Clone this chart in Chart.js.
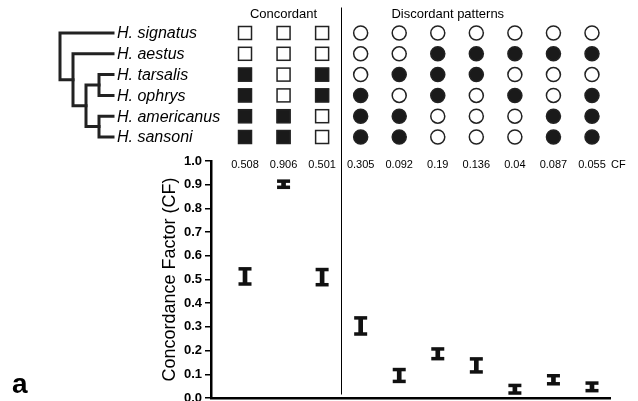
<!DOCTYPE html>
<html>
<head>
<meta charset="utf-8">
<script src="https://cdn.jsdelivr.net/npm/chart.js@4.4.0/dist/chart.umd.min.js"></script>
<style>
  html, body { margin: 0; padding: 0; background: #fff; }
  #wrap { width: 638px; height: 401px; position: relative; }
</style>
</head>
<body>
<div id="wrap"><canvas id="cfChart"></canvas></div>
<script>
// pattern columns (0-2 concordant, 3-9 discordant)
const patternIds = [0, 1, 2, 3, 4, 5, 6, 7, 8, 9];
const cfValues = [0.508, 0.906, 0.501, 0.305, 0.092, 0.19, 0.136, 0.04, 0.087, 0.055];
const cfLow  = [0.481, 0.889, 0.478, 0.270, 0.070, 0.166, 0.110, 0.021, 0.060, 0.031];
const cfHigh = [0.545, 0.915, 0.542, 0.338, 0.120, 0.207, 0.165, 0.053, 0.094, 0.063];
const yTicks = [0, 0.1, 0.2, 0.3, 0.4, 0.5, 0.6, 0.7, 0.8, 0.9, 1.0];

const species = ['H. signatus', 'H. aestus', 'H. tarsalis', 'H. ophrys', 'H. americanus', 'H. sansoni'];
const tree = ['H. signatus', ['H. aestus', [['H. tarsalis', 'H. ophrys'], ['H. americanus', 'H. sansoni']]]];
// one string per column, rows top->bottom in species order, 1 = filled
const patterns = ['001111', '000011', '001100', '000111', '001011', '011100', '011000', '010100', '010011', '010111'];
const concordantCount = 3;

const FONT = '"Liberation Sans", Arial, Helvetica, sans-serif';
const INK = '#111';

// row layout of the top panel
const rowY = i => 33 + i * 20.8;

const topPanel = {
  id: 'topPanel',
  afterDraw(chart) {
    const { ctx, scales: { x, y } } = chart;
    ctx.save();

    // tree (cladogram)
    const leafX = 113, x0 = 60, step = 13;
    ctx.strokeStyle = '#222';
    ctx.lineWidth = 3;
    ctx.lineCap = 'square';
    const layout = (node, depth) => {
      if (typeof node === 'string') return { y: rowY(species.indexOf(node)), x: leafX };
      const nx = x0 + depth * step;
      const kids = node.map(n => layout(n, depth + 1));
      const ys = kids.map(k => k.y);
      ctx.beginPath();
      ctx.moveTo(nx, Math.min(...ys));
      ctx.lineTo(nx, Math.max(...ys));
      kids.forEach(k => { ctx.moveTo(nx, k.y); ctx.lineTo(k.x, k.y); });
      ctx.stroke();
      return { y: (Math.min(...ys) + Math.max(...ys)) / 2, x: nx };
    };
    layout(tree, 0);

    ctx.fillStyle = '#000';
    ctx.font = 'italic 16px ' + FONT;
    ctx.textAlign = 'left';
    ctx.textBaseline = 'middle';
    species.forEach((s, i) => ctx.fillText(s, 117, rowY(i) + 1));

    // headings
    ctx.font = '13px ' + FONT;
    ctx.textAlign = 'center';
    ctx.fillText('Concordant', x.getPixelForValue(1), 14);
    ctx.textAlign = 'left';
    ctx.fillText('Discordant patterns', x.getPixelForValue(concordantCount - 0.5) + 50, 14);

    // pattern matrix
    ctx.lineWidth = 1.5;
    patterns.forEach((col, c) => {
      const cx = x.getPixelForValue(patternIds[c]);
      col.split('').forEach((v, r) => {
        const cy = rowY(r);
        const filled = v === '1';
        ctx.fillStyle = filled ? '#1a1a1a' : '#fff';
        ctx.strokeStyle = '#222';
        if (c < concordantCount) {
          ctx.fillRect(cx - 7, cy - 7, 14, 14);
          ctx.strokeRect(cx - 6.5, cy - 6.5, 13, 13);
        } else {
          ctx.beginPath();
          ctx.arc(cx, cy, 7, 0, Math.PI * 2);
          ctx.fill();
          ctx.stroke();
        }
      });
    });

    // divider
    const dx = Math.round(x.getPixelForValue(concordantCount - 0.5)) + 0.5;
    ctx.strokeStyle = '#000';
    ctx.lineWidth = 1;
    ctx.beginPath();
    ctx.moveTo(dx, 8);
    ctx.lineTo(dx, y.bottom - 4);
    ctx.stroke();

    // CF values row
    ctx.fillStyle = '#000';
    ctx.font = '11px ' + FONT;
    ctx.textAlign = 'center';
    ctx.textBaseline = 'middle';
    cfValues.forEach((v, i) => ctx.fillText(String(v), x.getPixelForValue(patternIds[i]), y.top + 4));
    ctx.textAlign = 'left';
    ctx.fillText('CF', 611, y.top + 4);

    // panel letter
    ctx.font = 'bold 28px ' + FONT;
    ctx.textBaseline = 'alphabetic';
    ctx.fillText('a', 12, 393);

    ctx.restore();
  }
};

new Chart(document.getElementById('cfChart'), {
  type: 'bar',
  data: {
    datasets: [
      {
        type: 'bar',
        data: patternIds.map(i => ({ x: i, y: [cfLow[i], cfHigh[i]] })),
        backgroundColor: INK,
        barThickness: 4,
        borderWidth: 0
      },
      {
        type: 'scatter',
        data: patternIds.map(i => ({ x: i, y: cfLow[i] })),
        pointStyle: 'line',
        pointRadius: 6.5,
        borderWidth: 3.5,
        borderColor: INK
      },
      {
        type: 'scatter',
        data: patternIds.map(i => ({ x: i, y: cfHigh[i] })),
        pointStyle: 'line',
        pointRadius: 6.5,
        borderWidth: 3.5,
        borderColor: INK
      }
    ]
  },
  options: {
    responsive: true,
    maintainAspectRatio: false,
    animation: false,
    layout: { autoPadding: false, padding: { left: 155, top: 161, right: 28, bottom: 3 } },
    plugins: { legend: { display: false }, tooltip: { enabled: false } },
    scales: {
      x: {
        type: 'linear',
        offset: false,
        min: -0.882,
        max: 9.467,
        ticks: { display: false },
        grid: { display: false, drawTicks: false, offset: false },
        border: { color: '#000', width: 2.5 },
        afterFit: s => { s.height = 0; s.paddingLeft = 0; s.paddingRight = 0; }
      },
      y: {
        min: 0,
        max: 1,
        afterBuildTicks: s => { s.ticks = yTicks.map(v => ({ value: v })); },
        ticks: {
          color: '#000',
          padding: 3,
          font: { family: FONT, size: 13, weight: 'bold' },
          callback: v => Number(v).toFixed(1)
        },
        grid: { drawOnChartArea: false, drawTicks: true, tickLength: 6, color: '#000', lineWidth: 1.5 },
        border: { color: '#000', width: 2.5 },
        title: {
          display: true,
          text: 'Concordance Factor (CF)',
          color: '#000',
          font: { family: FONT, size: 18 },
          padding: { top: 4, bottom: 4 }
        },
        afterFit: s => { s.width = 56; s.paddingTop = 0; s.paddingBottom = 0; }
      }
    }
  },
  plugins: [topPanel]
});
</script>
</body>
</html>
